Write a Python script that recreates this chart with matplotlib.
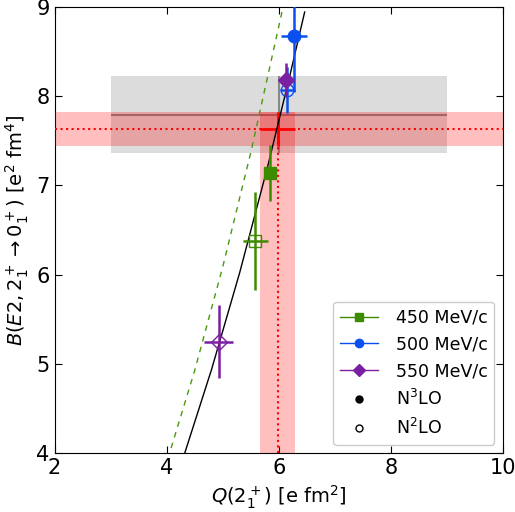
import matplotlib
matplotlib.use("Agg")
import matplotlib.pyplot as plt
from matplotlib.lines import Line2D

# theory curves
curve_q = [4.32, 4.8, 5.3, 5.8, 6.2, 6.46]
curve_b = [4.00, 4.94, 6.02, 7.21, 8.24, 8.94]
rotor_q = [4.02, 4.5, 5.0, 5.5, 6.08]
rotor_b = [3.94, 4.93, 6.09, 7.37, 9.01]

# experiment: red bands, gray box
exp_q, exp_qerr = 5.98, 0.31
exp_b, exp_berr = 7.63, 0.195
gray_q, gray_qerr = 6.0, 3.0
gray_b, gray_berr = 7.79, 0.43

# calculations: label, colour, marker
labels = ["450 MeV/c", "500 MeV/c", "550 MeV/c"]
colors = ["#3d8c00", "#0a50f0", "#7b1fa2"]
markers = ["s", "o", "D"]
# N3LO
n3_q = [5.85, 6.27, 6.12]
n3_qerr = [0.08, 0.24, 0.05]
n3_b = [7.14, 8.67, 8.18]
n3_berr = [0.31, 0.62, 0.19]
# N2LO
n2_q = [5.58, 6.15, 4.93]
n2_qerr = [0.22, 0.13, 0.26]
n2_b = [6.38, 8.07, 5.25]
n2_berr = [0.55, 0.26, 0.41]

fig = plt.figure(figsize=(5.15, 5.12), dpi=100)
ax = fig.add_axes([0.106, 0.1146, 0.871, 0.8724])
ymin = 4

# gray box
ax.fill_between([gray_q - gray_qerr, gray_q + gray_qerr], gray_b - gray_berr, gray_b + gray_berr,
                color="#dcdcdc", lw=0, zorder=1)
ax.errorbar(gray_q, gray_b, xerr=gray_qerr, yerr=gray_berr, color="#888888", lw=1.5, zorder=2)

# red bands: horizontal across, vertical from bottom up to the top of the horizontal band
ax.axhspan(exp_b - exp_berr, exp_b + exp_berr, color="red", alpha=0.25, lw=0, zorder=3)
ax.fill_betweenx([ymin, exp_b + exp_berr], exp_q - exp_qerr, exp_q + exp_qerr,
                 color="red", alpha=0.25, lw=0, zorder=3)
ax.axhline(exp_b, color="red", ls=":", lw=1.5, zorder=4)
ax.plot([exp_q, exp_q], [ymin, exp_b], color="red", ls=":", lw=1.5, zorder=4)
ax.errorbar(exp_q, exp_b, xerr=exp_qerr, yerr=exp_berr, color="red", lw=2, zorder=5)

# curves
ax.plot(curve_q, curve_b, color="black", lw=1, zorder=6)
ax.plot(rotor_q, rotor_b, color="#4a9a10", lw=1, ls=(0, (4, 4)), zorder=6)

for i in range(3):
    ms = 8 if markers[i] == "D" else 9
    ax.errorbar(n2_q[i], n2_b[i], xerr=n2_qerr[i], yerr=n2_berr[i], color=colors[i],
                marker=markers[i], ms=ms, mfc="none", mec=colors[i], mew=1, lw=1.8, zorder=7)
    ax.errorbar(n3_q[i], n3_b[i], xerr=n3_qerr[i], yerr=n3_berr[i], color=colors[i],
                marker=markers[i], ms=ms, lw=1.8, zorder=8)

ax.set_xlim(2, 10)
ax.set_ylim(ymin, 9)
ax.set_xticks([2, 4, 6, 8, 10])
ax.set_yticks([4, 5, 6, 7, 8, 9])
ax.tick_params(direction="in", top=True, right=True, labelsize=15, length=5)
ax.set_xlabel(r"$Q(2_1^+)$ [e fm$^2$]", fontsize=14)
ax.set_ylabel(r"$B(E2,2_1^+\rightarrow0_1^+)$ [e$^2$ fm$^4$]", fontsize=14)

handles = [Line2D([], [], color=c, marker=m, ms=6, lw=1) for c, m in zip(colors, markers)]
handles.append(Line2D([], [], color="black", marker="o", ms=5, ls="none"))
handles.append(Line2D([], [], color="black", marker="o", ms=5, mfc="none", ls="none"))
ax.legend(handles, labels + [r"N$^3$LO", r"N$^2$LO"], loc="lower right", fontsize=12.5,
          framealpha=1, handlelength=2.2, handletextpad=1.0)

fig.savefig("out.png", dpi=100)
